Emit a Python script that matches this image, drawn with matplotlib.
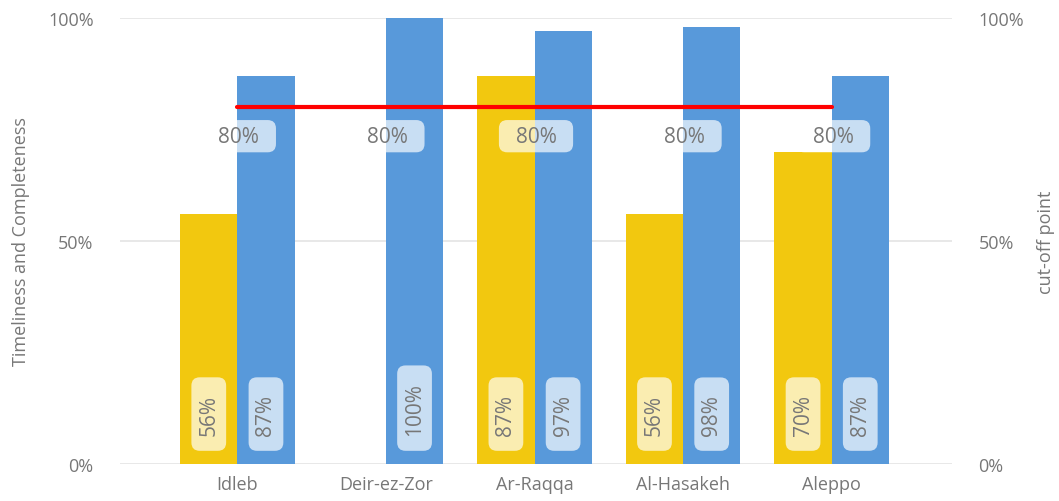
import matplotlib
matplotlib.use("Agg")
import matplotlib.pyplot as plt
from matplotlib.patches import BoxStyle
from matplotlib.ticker import PercentFormatter
import numpy as np

plt.rcParams['font.family'] = ['Open Sans', 'DejaVu Sans']

categories = ["Idleb", "Deir-ez-Zor", "Ar-Raqqa", "Al-Hasakeh", "Aleppo"]
timeliness = [0.56, None, 0.87, 0.56, 0.70]
completeness = [0.87, 1.00, 0.97, 0.98, 0.87]
cutoff = [0.80, 0.80, 0.80, 0.80, 0.80]
yticks = [0, 0.5, 1.0]

YELLOW = "#F2C80F"
BLUE = "#5899DA"
RED = "#FF0000"
GRAY = "#777777"


class PadRound:
    def __init__(self, padx, pady, r):
        self.padx, self.pady, self.r = padx, pady, r

    def __call__(self, x0, y0, width, height, mutation_size):
        px = self.padx * mutation_size
        py = self.pady * mutation_size
        return BoxStyle.Round(pad=0, rounding_size=self.r)(
            x0 - px, y0 - py, width + 2 * px, height + 2 * py, mutation_size)


fig = plt.figure(figsize=(10.59, 5.02), dpi=100)
ax = fig.add_axes([120 / 1059, 37 / 502, 832 / 1059, 446 / 502])
ax2 = ax.twinx()

x = np.arange(len(categories))
w = 0.385
ty = [v if v is not None else 0 for v in timeliness]
ax.bar(x - w / 2, ty, width=w, color=YELLOW, zorder=2)
ax.bar(x + w / 2, completeness, width=w, color=BLUE, zorder=2)

ax.set_xlim(-0.79, 4.81)
ax.set_ylim(0, 1)
ax2.set_ylim(0, 1)
for a in (ax, ax2):
    a.set_yticks(yticks)
    a.yaxis.set_major_formatter(PercentFormatter(1.0, decimals=0))
    a.tick_params(axis='y', length=0, labelsize=13, labelcolor=GRAY, pad=19)
    for s in a.spines.values():
        s.set_visible(False)
ax.tick_params(axis='x', length=0, labelsize=13, labelcolor=GRAY, pad=8)
ax.set_xticks(x)
ax.set_xticklabels(categories)
ax.grid(axis='y', color="#E6E6E6", linewidth=1.3, zorder=0)
ax.set_axisbelow(True)

ax.set_ylabel("Timeliness and Completeness", fontsize=13, color=GRAY, labelpad=13)
ax2.set_ylabel("cut-off point", fontsize=13, color=GRAY, labelpad=9)

ax2.plot(x, cutoff, color=RED, linewidth=3, solid_capstyle='round', zorder=5)

box_v = PadRound(0.78, 0.33, 0.4)
# bottom labels
for xi, vals, off in ((x, timeliness, -w / 2), (x, completeness, w / 2)):
    for i, v in enumerate(vals):
        if v is None:
            continue
        ax.text(xi[i] + off, 0.066, f"{v:.0%}", rotation=90, ha='center', va='bottom',
                fontsize=15, color=GRAY, zorder=6,
                bbox=dict(boxstyle=box_v, fc='white', ec='none', alpha=0.68))

box_h = PadRound(0.8, 0.27, 0.4)
for i, v in enumerate(cutoff):
    ax2.text(x[i] + 0.01, 0.735, f"{v:.0%}", ha='center', va='center',
             fontsize=15, color=GRAY, zorder=6,
             bbox=dict(boxstyle=box_h, fc='white', ec='none', alpha=0.68))

fig.savefig("out.png", dpi=100)
